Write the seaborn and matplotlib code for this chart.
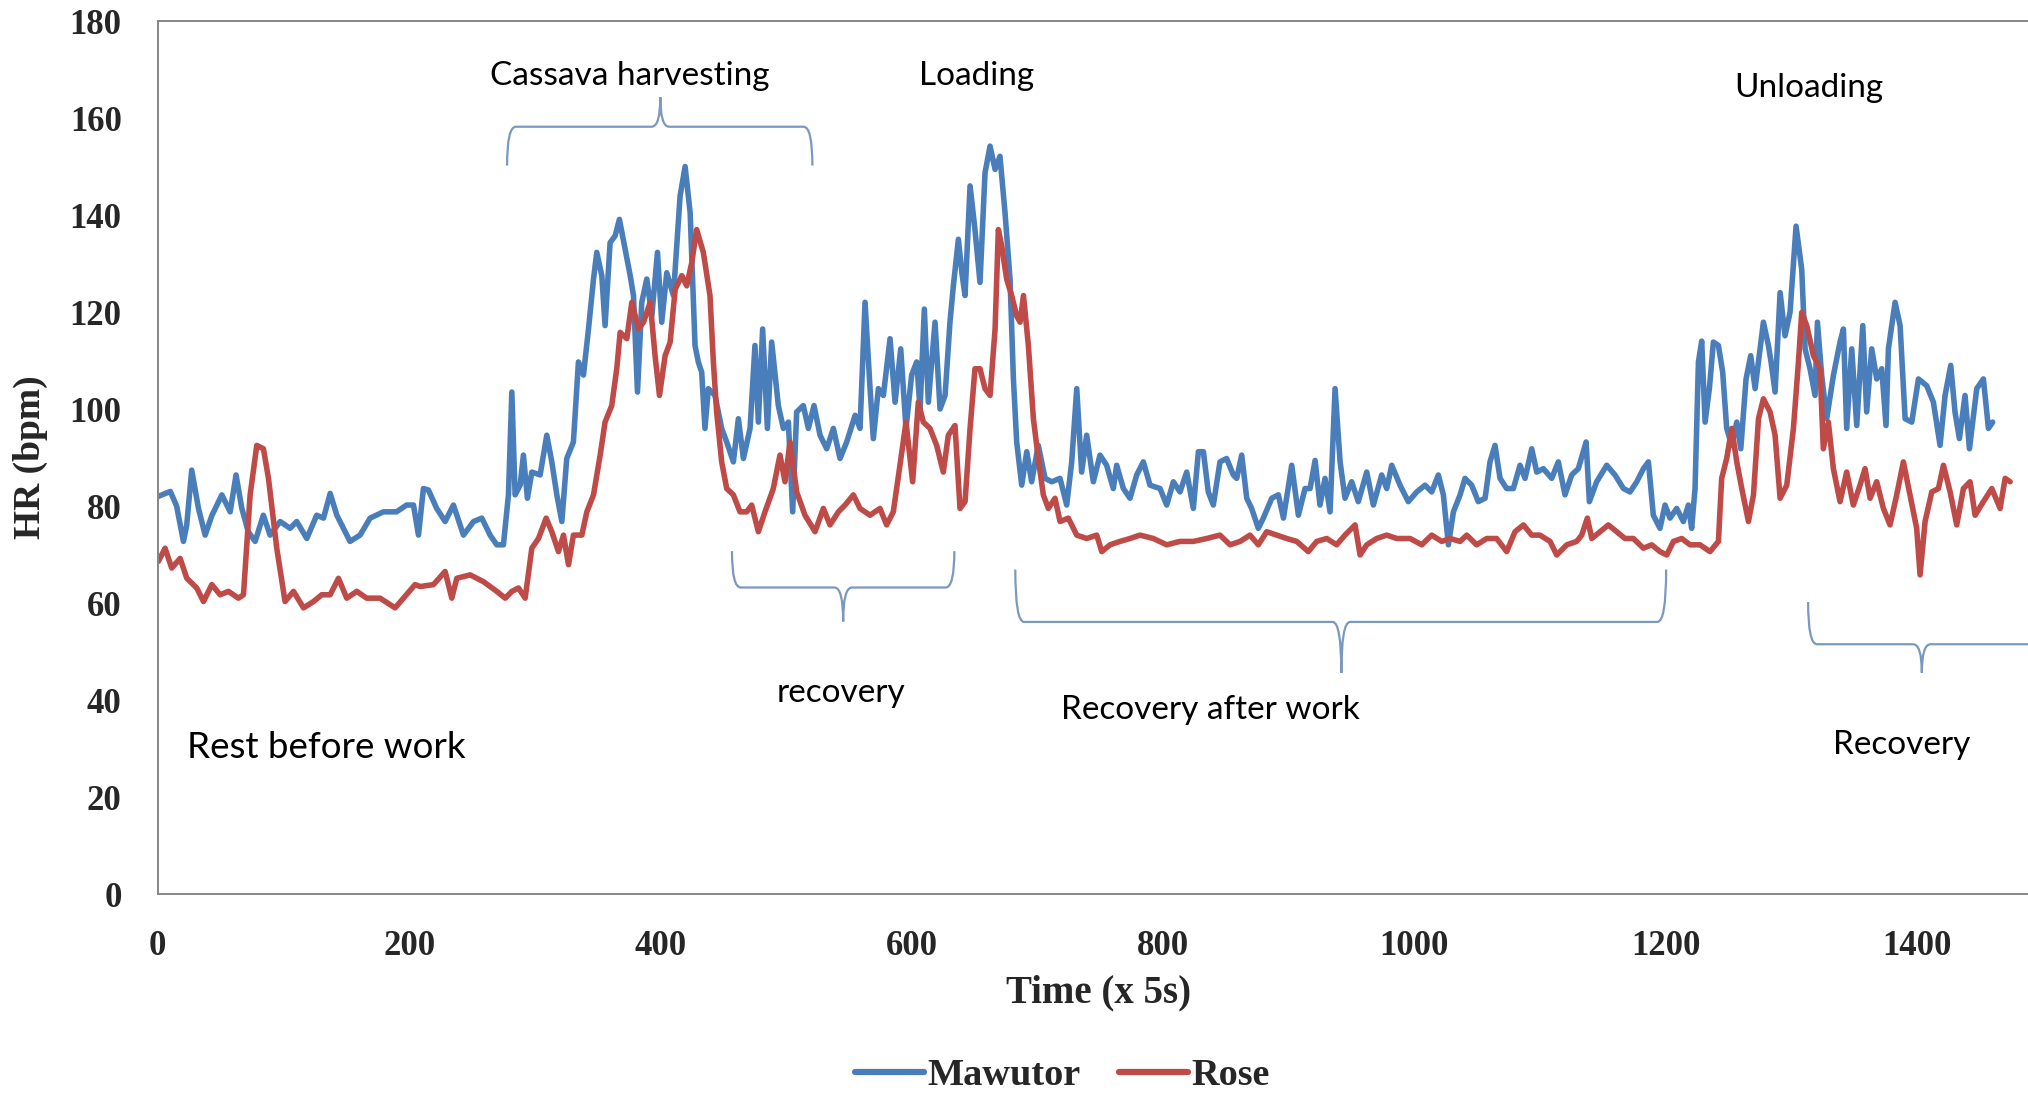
import pandas as pd
import matplotlib.pyplot as plt
from matplotlib.path import Path
from matplotlib.patches import PathPatch
import seaborn as sns

# Heart rate (bpm) against time (x 5 s)
mawutor_t = [0.5, 10, 15, 20.4, 23, 27, 32.4, 37.7, 43, 51, 57.6, 62.3, 66.9, 72, 77.5, 84, 89.4, 97.4,
             105.3, 110.6, 118.6, 126.5, 131.9, 137.2, 142.5, 153, 161, 169, 179.6, 190, 198, 203.5,
             207.5, 211.4, 215.4, 222, 228.7, 235.3, 243.3, 251.3, 257.9, 264.5, 269.8, 275.1, 279.1,
             281.8, 284.4, 288.4, 291, 294.2, 297.7, 304.3, 309.6, 313.6, 317.6, 321.6, 325.5, 330.8,
             334.8, 338.8, 342.8, 346.8, 349.4, 353.4, 356, 360, 364, 367.4, 372, 376, 378.6, 381.8,
             385.2, 389.2, 393.2, 397.7, 401.1, 405.1, 410.4, 415.7, 419.7, 423.7, 427.6, 430.2, 432.9,
             435.5, 438.2, 443.5, 448.8, 452.8, 458.1, 462.1, 466.1, 471.4, 475.3, 478, 481.4, 485.2,
             488.6, 493.9, 497.9, 501.9, 505.3, 508.5, 513.8, 517.8, 522.3, 527.1, 532.4, 537.7, 543,
             548.3, 555, 558.9, 562.9, 566.9, 569.5, 573.5, 577.5, 582.8, 586.8, 591.3, 595.5, 600,
             604, 606.7, 610.1, 613.3, 618.6, 622.6, 626.6, 630.5, 633.2, 637.2, 640, 642.5, 646.5,
             650.4, 654.4, 658.4, 662.4, 666.4, 670.3, 674.3, 678.3, 681, 683.6, 687.6, 691.6, 695.5,
             700.8, 706.2, 711.5, 718.1, 723.4, 727.4, 731.4, 735.3, 739.3, 744.6, 749.9, 755.2, 760.5,
             763.2, 768.5, 773.8, 779.1, 784.4, 789.7, 797.7, 803, 808.3, 813.6, 818.9, 824.2, 828.2,
             832.2, 836.1, 840.1, 845.4, 850.7, 856, 858.7, 862.7, 866.7, 870.6, 875.9, 879.9, 886.6,
             891.9, 895.9, 902.5, 907.8, 913.1, 917.1, 921.1, 925, 929, 933, 937, 941, 944.9, 950.2,
             955.5, 962.2, 967.5, 974.1, 978.1, 982.1, 988.7, 995.3, 1002, 1008.6, 1013.9, 1019.2,
             1023.2, 1027.2, 1031.2, 1036.5, 1040.4, 1045.7, 1051, 1056.4, 1060.3, 1064.3, 1068.3,
             1073.6, 1078.9, 1084.2, 1088.2, 1093.5, 1097.5, 1102.8, 1109.4, 1114.7, 1120, 1125.3,
             1130.6, 1136.8, 1139.4, 1145.2, 1153.2, 1159.8, 1166.5, 1171.8, 1177.1, 1182.4, 1186.4,
             1190.3, 1195.6, 1199.6, 1203.6, 1208.9, 1214.2, 1218.2, 1220.8, 1223.5, 1226.2, 1228.8,
             1231.5, 1234.9, 1238.1, 1242.1, 1245.5, 1248.7, 1252.7, 1256.7, 1259.9, 1264.1, 1267.8,
             1271.3, 1275.2, 1277.9, 1281.9, 1284, 1287.2, 1291.2, 1295.1, 1299.1, 1303.9, 1308.4,
             1311.1, 1315, 1319, 1320.9, 1324.3, 1328.3, 1333.6, 1338.9, 1341.6, 1344.2, 1348.2,
             1352.2, 1357, 1360.1, 1364.1, 1368.1, 1372.1, 1375.5, 1377.4, 1382.7, 1386.7, 1390.7,
             1396, 1401.3, 1407.9, 1413.2, 1418.5, 1422.5, 1427, 1430.4, 1433.9, 1438.4, 1441.9,
             1447.7, 1453, 1457, 1460.4]
mawutor_hr = [82, 83, 80, 72.7, 76, 87.4, 79.5, 74, 78, 82.3, 78.8, 86.4, 79.5, 74.7, 72.7, 78.1, 74,
              76.8, 75.4, 76.8, 73.3, 78.1, 77.5, 82.6, 78.1, 72.7, 74, 77.5, 78.8, 78.8, 80.2, 80.2,
              74, 83.6, 83.3, 79.5, 76.8, 80.2, 74, 76.8, 77.5, 74, 72, 72, 82.3, 103.5, 82.3, 84.3,
              90.5, 81.6, 87, 86.4, 94.6, 89.1, 82.3, 76.8, 89.8, 93.2, 109.7, 107, 116.5, 126.8,
              132.3, 127.5, 117.2, 134.3, 135.7, 139.1, 132.9, 127.5, 123.4, 103.5, 122, 126.8, 119.2,
              132.3, 117.9, 128.1, 123.4, 143.9, 150, 140.5, 113.1, 109.7, 107.6, 96, 104.2, 102.8,
              96, 93.2, 89.1, 98, 89.8, 96, 113.1, 97.3, 116.5, 96, 113.8, 100.7, 96, 97.3, 78.8,
              99.4, 100.7, 96, 100.7, 94.6, 91.8, 96, 89.8, 93.2, 98.7, 96, 122, 104.2, 93.9, 104.2,
              102.8, 114.5, 101.4, 112.4, 96, 107, 109.7, 100, 120.6, 101.4, 117.9, 100, 102.8, 117.9,
              125.4, 135, 128, 123.4, 146, 137, 126.1, 148.7, 154.2, 149.4, 152.1, 140.5, 126.8,
              106.2, 93.2, 84.3, 91.2, 85, 92.5, 85.7, 85, 85.7, 80.2, 89.1, 104.2, 87, 94.6, 85, 90.5,
              88.4, 83.6, 88.4, 83.6, 81.6, 86.4, 89.1, 84.3, 83.6, 80.2, 85, 82.9, 87, 79.5, 91.2,
              91.2, 82.9, 80.2, 89.1, 89.8, 86.4, 85.7, 90.5, 81.6, 79.5, 75.4, 77.5, 81.6, 82.3, 77.5,
              88.4, 78.1, 83.6, 83.6, 89.4, 80.2, 85.7, 78.8, 104.2, 89.1, 81.6, 85, 80.9, 87, 80.2,
              86.4, 83.6, 88.4, 84.3, 80.9, 82.9, 84.3, 82.9, 86.4, 82.3, 72, 78.8, 82.3, 85.7, 84.3,
              80.9, 81.6, 89.1, 92.5, 85.7, 83.6, 83.6, 88.4, 85.7, 91.8, 87, 87.7, 85.7, 89.1, 82.3,
              86.4, 87.7, 93.2, 80.9, 85, 88.4, 86.4, 83.6, 82.9, 85, 87.7, 89.1, 78.1, 75.4, 80.2,
              77.5, 79.5, 76.8, 80.2, 75.4, 83.6, 109.7, 114, 97.3, 104.2, 113.8, 113.1, 107.6, 96,
              92.5, 97.3, 91.8, 106.2, 111, 104.2, 112.4, 117.9, 113.1, 109.7, 103.5, 124, 115.1,
              119.9, 137.7, 128.8, 112.4, 108.3, 102.8, 117.9, 106.9, 98, 106.9, 113.8, 116.5, 96,
              112.4, 96.6, 117.2, 99.4, 112.4, 106.2, 108.3, 96.6, 112.4, 122, 117.2, 98, 97.3, 106.2,
              104.8, 101.4, 92.5, 102.8, 109, 99.4, 93.9, 102.8, 91.8, 104.2, 106.2, 96, 97.3]

rose_t = [0.5, 5.8, 11.1, 17.8, 23.1, 31, 36.4, 43, 49.6, 56.2, 64.2, 68.2, 73.5, 78.8, 84.1, 88.1,
          94.7, 101.3, 108, 116, 123.9, 130.5, 137.2, 143.8, 150.4, 158.4, 166.3, 176.9, 188.9,
          195.5, 204.8, 208.8, 219.4, 228.7, 234, 238, 248.6, 259.2, 269.8, 276.5, 281.8, 287.1,
          292.4, 297.7, 303, 309.1, 313.6, 318.9, 322.9, 326.9, 330.8, 337.5, 341.5, 346.8, 352.1,
          356, 361.3, 365.3, 368, 373.3, 377.3, 382.6, 386.6, 391.9, 395.8, 399.3, 403.8, 407.8,
          411.8, 417.1, 421, 425, 428.9, 434.2, 439.5, 442.2, 444.8, 448.8, 452.8, 458.1, 463.4,
          468.7, 472.7, 478, 483.3, 489.9, 495.2, 499.2, 503.2, 508.5, 515.1, 523.1, 529.7, 535,
          541.7, 547, 553.6, 558.9, 566.9, 574.8, 580.1, 585.4, 590.7, 595.5, 600.8, 605.3, 609.3,
          614.6, 619.9, 625.2, 629.2, 634.5, 638.5, 642.5, 646.5, 650.4, 654.4, 658.4, 662.4, 666.4,
          669, 671.7, 675.6, 679.6, 683.6, 686.3, 689, 692.9, 696.9, 700.8, 704.8, 708.8, 714.1,
          718.1, 724.7, 731.4, 739.3, 747.3, 751.3, 757.9, 765.8, 773.8, 781.8, 792.4, 803, 813.6,
          824.2, 834.8, 845.4, 853.4, 861.4, 869.3, 875.9, 882.6, 890.5, 898.5, 906.5, 915.7, 922.4,
          930.3, 938.3, 944.9, 952.9, 956.9, 962.2, 970.1, 978.1, 986.1, 996.7, 1006, 1013.9,
          1021.9, 1028.5, 1036.5, 1041.8, 1049.7, 1057.7, 1065.6, 1073.6, 1080.2, 1086.9, 1093.5,
          1100.1, 1108.1, 1113.4, 1121.4, 1129.3, 1133.3, 1137.8, 1141.3, 1147.9, 1154.5, 1161.2,
          1167.8, 1174.4, 1182.4, 1189, 1195.6, 1201, 1206.3, 1212.9, 1219.5, 1227.5, 1235.4,
          1242.1, 1244.7, 1248.7, 1252.7, 1256.7, 1260.7, 1266, 1270, 1274, 1277.9, 1283.2, 1287.2,
          1291.2, 1296.5, 1301.8, 1305.8, 1308.4, 1312.4, 1317.7, 1323, 1325.6, 1329.6, 1333.6,
          1338.9, 1344.2, 1349.5, 1354.8, 1358.8, 1362.8, 1368.1, 1373.4, 1378.7, 1384, 1389.3,
          1394.6, 1399.9, 1402.6, 1406.6, 1411.9, 1417.2, 1421.2, 1426.5, 1431.8, 1437.1, 1442.4,
          1446.4, 1453, 1459.7, 1466.3, 1470.3, 1474.3]
rose_hr = [68.6, 71.3, 67.2, 69.2, 65.1, 63.1, 60.3, 63.8, 61.7, 62.4, 61, 61.7, 82.3, 92.5, 91.8,
           85.7, 71.3, 60.3, 62.4, 59, 60.3, 61.7, 61.7, 65.1, 61, 62.4, 61, 61, 59, 61, 63.8, 63.4,
           63.8, 66.5, 61, 65.1, 65.8, 64.4, 62.4, 61, 62.4, 63.1, 61, 71.3, 73.3, 77.5, 74.7, 70.6,
           74, 67.9, 74, 74, 78.8, 82.3, 90.5, 97.3, 100.7, 108.3, 115.8, 114.5, 122, 116.5, 117.9,
           122, 111, 102.8, 111, 113.8, 124.7, 127.5, 125.4, 130.2, 137, 132.3, 123.4, 109.7, 99.4,
           89.1, 83.6, 82.3, 78.8, 78.8, 80.2, 74.7, 78.8, 83.6, 90.5, 85, 93.2, 82.9, 78.1, 74.7,
           79.5, 76.1, 78.8, 80.2, 82.3, 79.5, 78.1, 79.5, 76.1, 78.8, 88.4, 97.3, 85, 101.4, 97.3,
           96, 92.5, 87, 94.6, 96.6, 79.5, 80.9, 96, 108.3, 108.3, 104.2, 102.8, 116.5, 137, 133.6,
           126.8, 123.4, 119.2, 117.9, 123.4, 113.1, 98, 89.8, 82.3, 79.5, 81.6, 76.8, 77.5, 74,
           73.3, 74, 70.6, 72, 72.7, 73.3, 74, 73.3, 72, 72.7, 72.7, 73.3, 74, 72, 72.7, 74, 72,
           74.7, 74, 73.3, 72.7, 70.6, 72.7, 73.3, 72, 74, 76.1, 69.9, 72, 73.3, 74, 73.3, 73.3, 72,
           74, 72.7, 73.3, 72.7, 74, 72, 73.3, 73.3, 70.6, 74.7, 76.1, 74, 74, 72.7, 69.9, 72, 72.7,
           74, 77.5, 73.3, 74.7, 76.1, 74.7, 73.3, 73.3, 71.3, 72, 70.6, 69.9, 72.7, 73.3, 72, 72,
           70.6, 72.7, 85.7, 89.8, 96, 89.1, 83.6, 76.8, 82.3, 98, 102.1, 99.4, 94.6, 81.6, 84.3,
           96, 109.7, 119.9, 117.2, 111, 108.3, 91.8, 97.3, 87.7, 80.9, 87, 80.2, 84.3, 87.7, 81.6,
           85, 79.5, 76.1, 82.3, 89.1, 82.3, 75.4, 65.8, 76.8, 82.9, 83.6, 88.4, 82.9, 76.1, 83.6,
           85, 78.1, 80.9, 83.6, 79.5, 85.7, 85]

series_names = ['Mawutor', 'Rose']
series_colors = ['#4a7ebb', '#be4b48']

df = pd.concat([
    pd.DataFrame({'Time': mawutor_t, 'HR': mawutor_hr, 'Subject': 'Mawutor'}),
    pd.DataFrame({'Time': rose_t, 'HR': rose_hr, 'Subject': 'Rose'}),
], ignore_index=True)

sns.set_style("white")
plt.rcParams['font.family'] = ['Liberation Serif', 'DejaVu Serif']
plt.rcParams['font.weight'] = 'bold'

fig = plt.figure(figsize=(20.28, 10.94), dpi=100)
ax = fig.add_axes([0.0778, 0.1828, 0.9222, 0.798])

sns.lineplot(data=df, x='Time', y='HR', hue='Subject', hue_order=series_names,
             palette=dict(zip(series_names, series_colors)), estimator=None,
             linewidth=4.0, ax=ax, legend=False)

ax.set_xlim(0, 1488.5)
ax.set_ylim(0, 180)
ax.set_xticks(range(0, 1401, 200))
ax.set_yticks(range(0, 181, 20))

for side in ['left', 'top', 'bottom']:
    ax.spines[side].set_color('#868686')
    ax.spines[side].set_linewidth(1.4)
ax.spines['right'].set_visible(False)
ax.tick_params(direction='in', length=9, width=1.2, color='#868686',
               labelsize=25, pad=26)
for lab in ax.get_xticklabels() + ax.get_yticklabels():
    lab.set_fontweight('bold')

ax.set_xlabel('Time (x 5s)', fontsize=28, fontweight='bold')
ax.set_ylabel('HR (bpm)', fontsize=27, fontweight='bold')
ax.xaxis.set_label_coords(0.503, -0.092)
ax.yaxis.set_label_coords(-0.0585, 0.5)

# Curly braces marking the work phases
def brace(x0, x1, xm, y_end, y_mid, y_tip, c=7):
    verts = [(x0, y_end), (x0, y_mid), (x0 + c, y_mid),
             (xm - c, y_mid), (xm, y_mid), (xm, y_tip),
             (xm, y_mid), (xm + c, y_mid),
             (x1 - c, y_mid), (x1, y_mid), (x1, y_end)]
    codes = [Path.MOVETO, Path.CURVE3, Path.CURVE3, Path.LINETO, Path.CURVE3, Path.CURVE3,
             Path.CURVE3, Path.CURVE3, Path.LINETO, Path.CURVE3, Path.CURVE3]
    ax.add_patch(PathPatch(Path(verts, codes), facecolor='none', edgecolor='#7b98c0', lw=1.6))

brace(278, 521, 400, 150.2, 158.2, 164.3)
brace(457, 634, 545.5, 70.7, 63.2, 56.2)
brace(682.5, 1200.5, 942, 66.9, 56.1, 45.6)
brace(1313.5, 1520, 1404, 60.2, 51.5, 45.6)

ann = dict(family=['Lato', 'DejaVu Sans'], fontweight='normal', ha='center', va='center',
           color='black')
ax.text(376, 168.7, 'Cassava harvesting', fontsize=24, **ann)
ax.text(651.7, 168.7, 'Loading', fontsize=24, **ann)
ax.text(1313.8, 166.2, 'Unloading', fontsize=24, **ann)
ax.text(543.6, 41.4, 'recovery', fontsize=24, **ann)
ax.text(838, 37.9, 'Recovery after work', fontsize=24, **ann)
ax.text(134, 30.2, 'Rest before work', fontsize=26.5, **ann)
ax.text(1387.6, 30.7, 'Recovery', fontsize=24, **ann)

handles = [plt.Line2D([], [], color=c, lw=4.5) for c in series_colors]
fig.legend(handles, series_names, loc='center', bbox_to_anchor=(0.524, 0.0165), ncol=2,
           frameon=False, prop={'size': 27.5, 'weight': 'bold'}, handlelength=1.8,
           handletextpad=0.1, columnspacing=1.0)

fig.savefig('out.png', dpi=100)
